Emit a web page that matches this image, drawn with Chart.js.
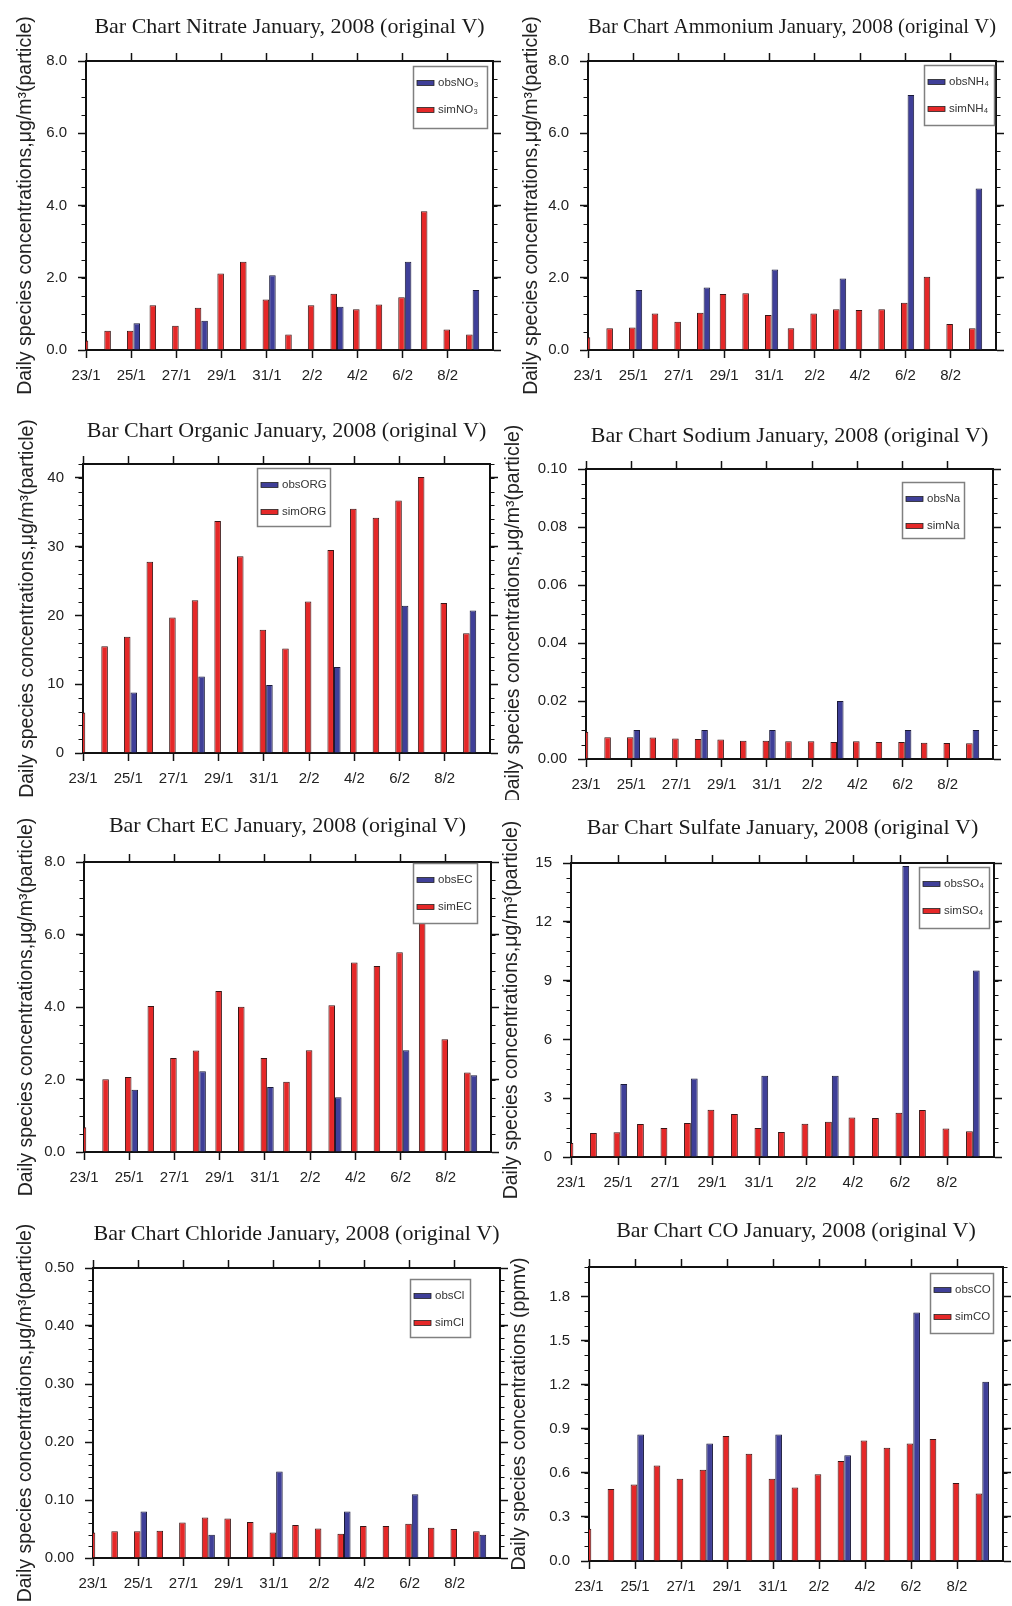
<!DOCTYPE html>
<html>
<head>
<meta charset="utf-8">
<script src="https://cdn.jsdelivr.net/npm/chart.js@4.4.1/dist/chart.umd.min.js"></script>
<style>
body{margin:0;background:#fff;}
#wrap{position:relative;width:1012px;height:1606px;overflow:hidden;background:#fff;}
canvas{position:absolute;}
</style>
</head>
<body>
<div id="wrap"></div>
<script>
'use strict';

// days on the x axis, labels shown every 2nd day
const days=['23/1','24/1','25/1','26/1','27/1','28/1','29/1','30/1','31/1','1/2','2/2','3/2','4/2','5/2','6/2','7/2','8/2','9/2'];
const dayTicks=[0,2,4,6,8,10,12,14,16];

const simNO3=[0.26,0.53,0.53,1.24,0.67,1.17,2.12,2.44,1.40,0.43,1.24,1.56,1.13,1.26,1.46,3.84,0.57,0.43];
const obsNO3=[null,null,0.74,null,null,0.81,null,null,2.07,null,null,1.20,null,null,2.44,null,null,1.66];
const simNH4=[0.35,0.60,0.62,1.01,0.78,1.03,1.55,1.57,0.97,0.60,1.01,1.13,1.11,1.13,1.31,2.03,0.72,0.60];
const obsNH4=[null,null,1.66,null,null,1.73,null,null,2.23,null,null,1.98,null,null,7.06,null,null,4.47];
const simORG=[5.9,15.5,16.9,27.8,19.7,22.2,33.7,28.6,17.9,15.2,22.0,29.5,35.5,34.2,36.7,40.1,21.8,17.4];
const obsORG=[null,null,8.8,null,null,11.1,null,null,9.9,null,null,12.5,null,null,21.4,null,null,20.7];
const simNa=[0.0094,0.0075,0.0075,0.0074,0.0071,0.0069,0.0067,0.0063,0.0063,0.0061,0.0061,0.0059,0.0061,0.0059,0.0059,0.0056,0.0055,0.0054];
const obsNa=[null,null,0.010,null,null,0.010,null,null,0.010,null,null,0.020,null,null,0.010,null,null,0.010];
const simEC=[0.68,2.01,2.07,4.03,2.59,2.80,4.44,4.01,2.59,1.94,2.81,4.05,5.23,5.13,5.51,6.37,3.11,2.19];
const obsEC=[null,null,1.72,null,null,2.23,null,null,1.79,null,null,1.51,null,null,2.81,null,null,2.12];
const simSO4=[0.71,1.22,1.26,1.68,1.48,1.73,2.41,2.19,1.48,1.28,1.70,1.80,2.02,1.99,2.26,2.40,1.45,1.31];
const obsSO4=[null,null,3.72,null,null,4.01,null,null,4.15,null,null,4.15,null,null,14.85,null,null,9.52];
const simCl=[0.044,0.046,0.046,0.047,0.061,0.070,0.068,0.062,0.044,0.057,0.051,0.042,0.055,0.055,0.059,0.052,0.050,0.046];
const obsCl=[null,null,0.080,null,null,0.040,null,null,0.149,null,null,0.080,null,null,0.110,null,null,0.040];
const simCO=[0.22,0.49,0.52,0.65,0.56,0.62,0.85,0.73,0.56,0.50,0.59,0.68,0.82,0.77,0.80,0.83,0.53,0.46];
const obsCO=[null,null,0.86,null,null,0.80,null,null,0.86,null,null,0.72,null,null,1.69,null,null,1.22];

// y axis major ticks
const ticks8=[0,2,4,6,8];
const ticksORG=[0,10,20,30,40];
const ticksNa=[0,0.02,0.04,0.06,0.08,0.10];
const ticksSO4=[0,3,6,9,12,15];
const ticksCl=[0,0.1,0.2,0.3,0.4,0.5];
const ticksCO=[0,0.3,0.6,0.9,1.2,1.5,1.8];

const unitPM='Daily species concentrations,\u03bcg/m\u00b3(particle)';
const unitCO='Daily species concentrations (ppmv)';

const OBS='#3f3f98';
const SIM='#e52828';
const SANS='"Liberation Sans", Arial, Helvetica, sans-serif';
const SERIF='"Liberation Serif", "Times New Roman", serif';

// layout: cell = canvas box, plot = chart area (page pixels)
const panels=[
  {title:'Bar Chart Nitrate January, 2008 (original V)',obs:obsNO3,sim:simNO3,obsName:'obsNO\u2083',simName:'simNO\u2083',
    yMax:8,yTicks:ticks8,minor:0.5,dec:1,yTitle:unitPM,
    cell:[0,0,515,400],plot:[86,61,493,350],titleY:27,yTitleX:25.5,legend:[413,66,74,62]},
  {title:'Bar Chart Ammonium January, 2008 (original V)',obs:obsNH4,sim:simNH4,obsName:'obsNH\u2084',simName:'simNH\u2084',
    yMax:8,yTicks:ticks8,minor:0.5,dec:1,yTitle:unitPM,
    cell:[490,0,1012,400],plot:[588,61,996,350],titleY:27,yTitleX:532,legend:[924,65,70,60]},
  {title:'Bar Chart Organic January, 2008 (original V)',obs:obsORG,sim:simORG,obsName:'obsORG',simName:'simORG',
    yMax:42,yTicks:ticksORG,minor:2,dec:0,yTitle:unitPM,
    cell:[0,400,515,800],plot:[83,464,490,753],titleY:431,yTitleX:27.5,legend:[257,468,73,58]},
  {title:'Bar Chart Sodium January, 2008 (original V)',obs:obsNa,sim:simNa,obsName:'obsNa',simName:'simNa',
    yMax:0.1,yTicks:ticksNa,minor:0.005,dec:2,yTitle:unitPM,
    cell:[490,400,1012,800],plot:[586,469,993,759],titleY:436,yTitleX:514,legend:[902,482,62,56]},
  {title:'Bar Chart EC January, 2008 (original V)',obs:obsEC,sim:simEC,obsName:'obsEC',simName:'simEC',
    yMax:8,yTicks:ticks8,minor:0.5,dec:1,yTitle:unitPM,
    cell:[0,800,515,1200],plot:[84,862,491,1152],titleY:826,yTitleX:27,legend:[413,863,64,60]},
  {title:'Bar Chart Sulfate January, 2008 (original V)',obs:obsSO4,sim:simSO4,obsName:'obsSO\u2084',simName:'simSO\u2084',
    yMax:15,yTicks:ticksSO4,minor:0.75,dec:0,yTitle:unitPM,
    cell:[490,800,1012,1200],plot:[571,863,994,1157],titleY:828,yTitleX:512,legend:[919,867,70,61]},
  {title:'Bar Chart Chloride January, 2008 (original V)',obs:obsCl,sim:simCl,obsName:'obsCl',simName:'simCl',
    yMax:0.5,yTicks:ticksCl,minor:0.02,dec:2,yTitle:unitPM,
    cell:[0,1200,515,1606],plot:[93,1268,500,1558],titleY:1234,yTitleX:26,legend:[410,1279,60,58]},
  {title:'Bar Chart CO January, 2008 (original V)',obs:obsCO,sim:simCO,obsName:'obsCO',simName:'simCO',
    yMax:2.0,yTicks:ticksCO,minor:0.1,dec:1,yTitle:unitCO,
    cell:[490,1200,1012,1606],plot:[589,1267,1003,1561],titleY:1231,yTitleX:520,legend:[930,1273,63,60]}
];

const TITLE_SIZE=22;
const YTITLE_SIZE=19.5;
const BAR_SHIFT=0.1; // bar pairs sit a little right of the day tick, like the original

// small outward minor ticks on left and right frame
const minorTicks={
  id:'minorTicks',
  afterDraw(chart,args,opts){
    const y=chart.scales.y;
    const area=chart.chartArea;
    const ctx=chart.ctx;
    ctx.save();
    ctx.strokeStyle='#111';
    ctx.lineWidth=1.2;
    const n=Math.round(y.max/opts.step);
    for(let i=0;i<=n;i++){
      const py=Math.round(y.getPixelForValue(i*opts.step))+0.5;
      ctx.beginPath();
      ctx.moveTo(area.left,py);ctx.lineTo(area.left-4.5,py);
      ctx.moveTo(area.right,py);ctx.lineTo(area.right+4.5,py);
      ctx.stroke();
    }
    ctx.restore();
  }
};

// NCL style legend box drawn inside the plot
const boxLegend={
  id:'boxLegend',
  afterDraw(chart,args,opts){
    const ctx=chart.ctx;
    const [x,y,w,h]=opts.rect;
    ctx.save();
    ctx.fillStyle='#fff';
    ctx.fillRect(x,y,w,h);
    ctx.strokeStyle='#808080';
    ctx.lineWidth=1.5;
    ctx.strokeRect(x+0.5,y+0.5,w,h);
    ctx.font='11.5px '+SANS;
    ctx.textBaseline='middle';
    opts.items.forEach((it,i)=>{
      const cy=y+17+i*27;
      ctx.fillStyle=it.color;
      ctx.fillRect(x+4,cy-2.5,17,5);
      ctx.strokeStyle='#222';
      ctx.lineWidth=0.8;
      ctx.strokeRect(x+4,cy-2.5,17,5);
      ctx.fillStyle='#333';
      ctx.fillText(it.text,x+25,cy);
    });
    ctx.restore();
  }
};

const wrap=document.getElementById('wrap');

function makePanel(p){
  const [cx,cy,cx2,cy2]=p.cell;
  const [L,T,R,B]=p.plot;
  const cw=cx2-cx;
  const ch=cy2-cy;
  const canvas=document.createElement('canvas');
  canvas.width=cw;
  canvas.height=ch;
  canvas.style.left=cx+'px';
  canvas.style.top=cy+'px';
  canvas.style.width=cw+'px';
  canvas.style.height=ch+'px';
  wrap.appendChild(canvas);

  const tLine=TITLE_SIZE*1.2;
  const tPad=p.titleY-cy-tLine/2;
  const yPad=p.yTitleX-cx-YTITLE_SIZE*1.2/2;

  const gridOpt={drawOnChartArea:false,drawTicks:true,tickLength:8,color:'#111',tickColor:'#111',tickWidth:1.5};
  const borderOpt={display:true,color:'#111',width:2};
  const tickFont={family:SANS,size:15};

  new Chart(canvas.getContext('2d'),{
    type:'bar',
    data:{
      datasets:[
        {label:p.simName,data:p.sim.map((v,i)=>({x:i,y:v})),xAxisID:'xb',backgroundColor:SIM,borderColor:'#3a1515',borderWidth:1,clip:0},
        {label:p.obsName,data:p.obs.map((v,i)=>({x:i,y:v})),xAxisID:'xb',backgroundColor:OBS,borderColor:'#1a1a3a',borderWidth:1,clip:0}
      ]
    },
    options:{
      responsive:false,
      animation:false,
      devicePixelRatio:1,
      layout:{padding:0,autoPadding:false},
      datasets:{bar:{categoryPercentage:0.58,barPercentage:1.0}},
      plugins:{
        legend:{display:false},
        tooltip:{enabled:false},
        title:{
          display:true,
          text:p.title,
          fullSize:false,
          color:'#1a1a1a',
          font:{family:SERIF,size:TITLE_SIZE,weight:'normal',lineHeight:1.2},
          padding:{top:tPad,bottom:0}
        },
        minorTicks:{step:p.minor},
        boxLegend:{
          rect:[p.legend[0]-cx,p.legend[1]-cy,p.legend[2],p.legend[3]],
          items:[{text:p.obsName,color:OBS},{text:p.simName,color:SIM}]
        }
      },
      scales:{
        xb:{
          type:'linear',position:'bottom',display:false,offset:false,
          min:-BAR_SHIFT,max:18-BAR_SHIFT
        },
        x:{
          type:'linear',position:'bottom',min:0,max:18,offset:false,
          grid:Object.assign({offset:false},gridOpt),border:borderOpt,
          ticks:{font:tickFont,color:'#222',padding:9,autoSkip:false,maxRotation:0,callback:v=>days[v]},
          afterBuildTicks:s=>{s.ticks=dayTicks.map(v=>({value:v}));},
          afterFit:s=>{s.height=cy2-B;}
        },
        x2:{
          type:'linear',position:'top',min:0,max:18,offset:false,
          grid:Object.assign({offset:false},gridOpt),border:borderOpt,
          ticks:{display:false},
          afterBuildTicks:s=>{s.ticks=dayTicks.map(v=>({value:v}));},
          afterFit:s=>{s.height=T-cy-tLine-tPad;}
        },
        y:{
          type:'linear',position:'left',min:0,max:p.yMax,
          grid:gridOpt,border:borderOpt,
          ticks:{font:tickFont,color:'#222',padding:11,autoSkip:false,callback:v=>v.toFixed(p.dec)},
          title:{display:true,text:p.yTitle,color:'#222',font:{family:SANS,size:YTITLE_SIZE,lineHeight:1.2},padding:{top:yPad,bottom:0}},
          afterBuildTicks:s=>{s.ticks=p.yTicks.map(v=>({value:v}));},
          afterFit:s=>{s.width=L-cx;}
        },
        y2:{
          type:'linear',position:'right',min:0,max:p.yMax,
          grid:gridOpt,border:borderOpt,
          ticks:{display:false},
          afterBuildTicks:s=>{s.ticks=p.yTicks.map(v=>({value:v}));},
          afterFit:s=>{s.width=cx2-R;}
        }
      }
    },
    plugins:[minorTicks,boxLegend]
  });
}

panels.forEach(makePanel);
</script>
</body>
</html>
